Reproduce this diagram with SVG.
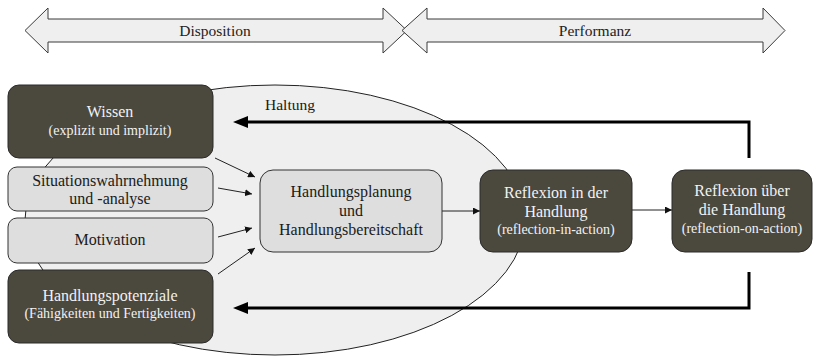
<svg xmlns="http://www.w3.org/2000/svg" width="820" height="357" viewBox="0 0 820 357">
<defs>
<style>
.band{fill:#efefef;stroke:#3a3a3a;stroke-width:1}
.dark{fill:#4b483e;stroke:#2a2a2a;stroke-width:1}
.light{fill:#dedede;stroke:#333;stroke-width:1}
.thin{stroke:#222;stroke-width:1;fill:none}
.thick{stroke:#000;stroke-width:3;fill:none}
</style>
<marker id="ah" viewBox="0 0 10 10" refX="10" refY="5" markerWidth="7" markerHeight="7" markerUnits="userSpaceOnUse" orient="auto"><path d="M0,0 L10,5 L0,10 z" fill="#111"/></marker>
</defs>
<g id="band-disposition">
<path class="band" d="M25,30.5 L48,8 L48,19 L383,19 L383,8 L407,30.5 L383,53 L383,42 L48,42 L48,53 Z"/>
<text x="215" y="36" text-anchor="middle" style="font-family:'Liberation Serif',serif;font-size:15.5px;fill:#222">Disposition</text>
</g>
<g id="band-performanz">
<path class="band" d="M402,30.5 L427,8 L427,19 L763,19 L763,8 L785,30.5 L763,53 L763,42 L427,42 L427,53 Z"/>
<text x="595" y="36" text-anchor="middle" style="font-family:'Liberation Serif',serif;font-size:15.5px;fill:#222">Performanz</text>
</g>
<g id="haltung">
<ellipse cx="275" cy="220" rx="250" ry="135" fill="#efefef" stroke="#222" stroke-width="1"/>
<text x="290" y="110" text-anchor="middle" style="font-family:'Liberation Serif',serif;font-size:15.5px;fill:#1a1a1a">Haltung</text>
</g>
<g id="connectors">
<line class="thin" x1="215" y1="158" x2="255" y2="177" marker-end="url(#ah)"/>
<line class="thin" x1="218" y1="188" x2="252" y2="194" marker-end="url(#ah)"/>
<line class="thin" x1="218" y1="237" x2="252" y2="228" marker-end="url(#ah)"/>
<line class="thin" x1="218" y1="274" x2="255" y2="248" marker-end="url(#ah)"/>
<line class="thin" x1="442" y1="211" x2="480" y2="211" marker-end="url(#ah)"/>
<line class="thin" x1="632" y1="210" x2="672" y2="210" marker-end="url(#ah)"/>
<polyline class="thick" points="749,158 749,122 247,122"/>
<path d="M233,122 L248,116 L248,128 Z" fill="#000"/>
<polyline class="thick" points="749,272 749,308 247,308"/>
<path d="M233,308 L248,302 L248,314 Z" fill="#000"/>
</g>
<g id="wissen">
<rect class="dark" x="8" y="85" width="205" height="73" rx="11"/>
<text x="110" y="117" text-anchor="middle" style="font-family:'Liberation Serif',serif;font-size:16px;fill:#f2f2f2">Wissen</text>
<text x="110" y="135" text-anchor="middle" style="font-family:'Liberation Serif',serif;font-size:14px;fill:#f2f2f2">(explizit und implizit)</text>
</g>
<g id="situation">
<rect class="light" x="8" y="167" width="205" height="44" rx="9"/>
<text x="110" y="186" text-anchor="middle" style="font-family:'Liberation Serif',serif;font-size:16px;fill:#1a1a1a">Situationswahrnehmung</text>
<text x="110" y="204" text-anchor="middle" style="font-family:'Liberation Serif',serif;font-size:16px;fill:#1a1a1a">und -analyse</text>
</g>
<g id="motivation">
<rect class="light" x="8" y="218" width="205" height="45" rx="9"/>
<text x="110" y="245" text-anchor="middle" style="font-family:'Liberation Serif',serif;font-size:16px;fill:#1a1a1a">Motivation</text>
</g>
<g id="potenziale">
<rect class="dark" x="8" y="270" width="205" height="73" rx="11"/>
<text x="110" y="301" text-anchor="middle" style="font-family:'Liberation Serif',serif;font-size:16px;fill:#f2f2f2">Handlungspotenziale</text>
<text x="110" y="318" text-anchor="middle" style="font-family:'Liberation Serif',serif;font-size:14px;fill:#f2f2f2">(Fähigkeiten und Fertigkeiten)</text>
</g>
<g id="planung">
<rect class="light" x="260" y="170" width="182" height="82" rx="13"/>
<text x="351" y="197" text-anchor="middle" style="font-family:'Liberation Serif',serif;font-size:16px;fill:#1a1a1a">Handlungsplanung</text>
<text x="351" y="216" text-anchor="middle" style="font-family:'Liberation Serif',serif;font-size:16px;fill:#1a1a1a">und</text>
<text x="351" y="235" text-anchor="middle" style="font-family:'Liberation Serif',serif;font-size:16px;fill:#1a1a1a">Handlungsbereitschaft</text>
</g>
<g id="reflexion-in">
<rect class="dark" x="480" y="170" width="152" height="82" rx="13"/>
<text x="556" y="198" text-anchor="middle" style="font-family:'Liberation Serif',serif;font-size:16px;fill:#f2f2f2">Reflexion in der</text>
<text x="556" y="217" text-anchor="middle" style="font-family:'Liberation Serif',serif;font-size:16px;fill:#f2f2f2">Handlung</text>
<text x="556" y="234" text-anchor="middle" style="font-family:'Liberation Serif',serif;font-size:14px;fill:#f2f2f2">(reflection-in-action)</text>
</g>
<g id="reflexion-ueber">
<rect class="dark" x="672" y="170" width="140" height="82" rx="13"/>
<text x="742" y="196" text-anchor="middle" style="font-family:'Liberation Serif',serif;font-size:16px;fill:#f2f2f2">Reflexion über</text>
<text x="742" y="215" text-anchor="middle" style="font-family:'Liberation Serif',serif;font-size:16px;fill:#f2f2f2">die Handlung</text>
<text x="742" y="233" text-anchor="middle" style="font-family:'Liberation Serif',serif;font-size:14px;fill:#f2f2f2">(reflection-on-action)</text>
</g>
</svg>
